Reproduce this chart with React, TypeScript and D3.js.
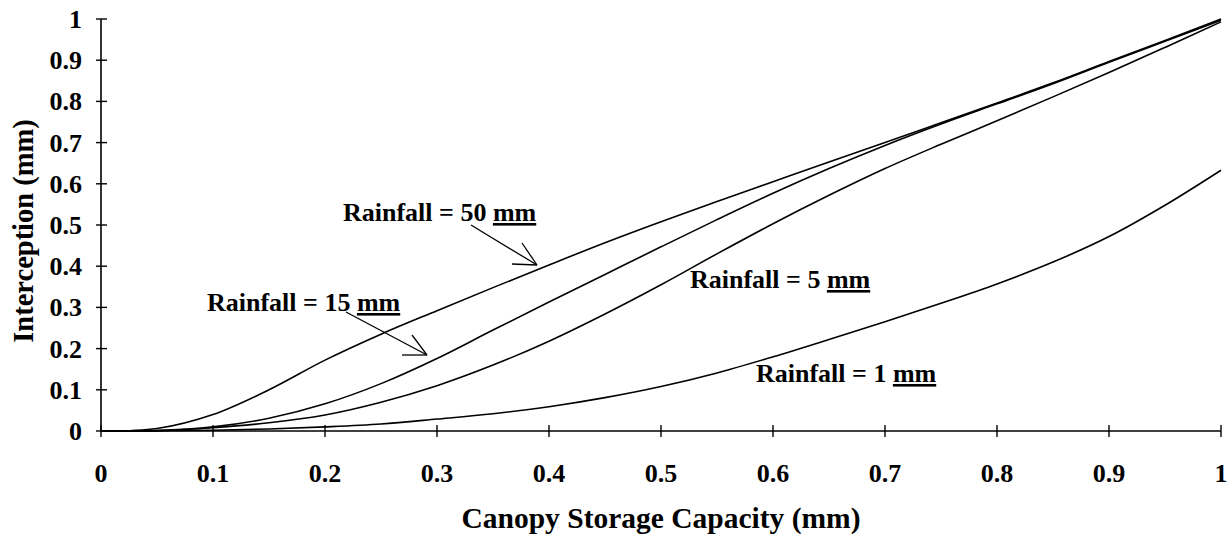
import React from "react";
import * as d3 from "d3";

const capacity = [0, 0.05, 0.1, 0.15, 0.2, 0.25, 0.3, 0.35, 0.4, 0.45, 0.5, 0.55, 0.6, 0.65, 0.7, 0.75, 0.8, 0.85, 0.9, 0.95, 1.0];
const rain50 = [0, 0.006, 0.04, 0.1, 0.172, 0.235, 0.292, 0.348, 0.403, 0.457, 0.508, 0.557, 0.605, 0.653, 0.7, 0.748, 0.796, 0.845, 0.897, 0.948, 1.0];
const rain15 = [0, 0.001, 0.01, 0.031, 0.066, 0.115, 0.176, 0.245, 0.313, 0.38, 0.447, 0.513, 0.577, 0.637, 0.693, 0.745, 0.794, 0.843, 0.895, 0.946, 0.997];
const rain5 = [0, 0.001, 0.008, 0.02, 0.039, 0.07, 0.11, 0.16, 0.218, 0.284, 0.355, 0.43, 0.503, 0.572, 0.637, 0.696, 0.753, 0.811, 0.87, 0.931, 0.993];
const rain1 = [0, 0.0005, 0.002, 0.005, 0.01, 0.017, 0.029, 0.042, 0.059, 0.081, 0.108, 0.141, 0.18, 0.222, 0.265, 0.31, 0.357, 0.41, 0.472, 0.548, 0.633];

const xTicks = [0, 0.1, 0.2, 0.3, 0.4, 0.5, 0.6, 0.7, 0.8, 0.9, 1];
const yTicks = [0, 0.1, 0.2, 0.3, 0.4, 0.5, 0.6, 0.7, 0.8, 0.9, 1];
const seriesNames = ["Rainfall = 50 mm", "Rainfall = 15 mm", "Rainfall = 5 mm", "Rainfall = 1 mm"];

const W = 1231;
const H = 535;
const FONT = "'Liberation Serif', 'Times New Roman', serif";

export default function App() {
  const x = d3.scaleLinear().domain([0, 1]).range([101, 1221]);
  const y = d3.scaleLinear().domain([0, 1]).range([431, 19]);
  const line = d3
    .line<[number, number]>()
    .x((d) => x(d[0]))
    .y((d) => y(d[1]))
    .curve(d3.curveCatmullRom.alpha(0.5));
  const series = [rain50, rain15, rain5, rain1];

  const label = (name: string, lx: number, ly: number) => {
    const parts = name.split(" ");
    const unit = parts[parts.length - 1];
    const head = parts.slice(0, -1).join(" ") + " ";
    return (
      <text x={lx} y={ly} fontFamily={FONT} fontWeight="bold" fontSize={26} fill="#000">
        {head}
        <tspan textDecoration="underline">{unit}</tspan>
      </text>
    );
  };

  const arrow = (x1: number, y1: number, x2: number, y2: number, b1: [number, number], b2: [number, number]) => (
    <g stroke="#000" strokeWidth={1.3} fill="none">
      <line x1={x1} y1={y1} x2={x2} y2={y2} />
      <line x1={b1[0]} y1={b1[1]} x2={x2} y2={y2} />
      <line x1={b2[0]} y1={b2[1]} x2={x2} y2={y2} />
    </g>
  );

  return (
    <svg width={W} height={H} style={{ display: "block", position: "absolute", left: 0, top: 0 }}>
      <rect width={W} height={H} fill="#fff" />
      {series.map((s, i) => (
        <path
          key={i}
          d={line(capacity.map((c, j) => [c, s[j]] as [number, number])) || ""}
          fill="none"
          stroke="#000"
          strokeWidth={1.6}
        />
      ))}
      <line x1={x(0)} x2={x(1)} y1={y(0)} y2={y(0)} stroke="#000" strokeWidth={1.6} />
      <line x1={x(0)} x2={x(0)} y1={y(0)} y2={y(1)} stroke="#000" strokeWidth={1.6} />
      {xTicks.map((t) => (
        <g key={"x" + t}>
          <line x1={x(t)} x2={x(t)} y1={y(0) - 6} y2={y(0) + 6} stroke="#000" strokeWidth={1.4} />
          <text x={x(t)} y={482} textAnchor="middle" fontFamily={FONT} fontWeight="bold" fontSize={26}>
            {String(t)}
          </text>
        </g>
      ))}
      {yTicks.map((t) => (
        <g key={"y" + t}>
          <line x1={x(0) - 5} x2={x(0) + 6} y1={y(t)} y2={y(t)} stroke="#000" strokeWidth={1.4} />
          <text x={82} y={y(t) + 9} textAnchor="end" fontFamily={FONT} fontWeight="bold" fontSize={26}>
            {String(t)}
          </text>
        </g>
      ))}
      <text x={661} y={528} textAnchor="middle" fontFamily={FONT} fontWeight="bold" fontSize={29.5}>
        Canopy Storage Capacity (mm)
      </text>
      <text
        transform={`translate(33, 231) rotate(-90)`}
        textAnchor="middle"
        fontFamily={FONT}
        fontWeight="bold"
        fontSize={28.5}
      >
        Interception (mm)
      </text>
      {label(seriesNames[0], 343, 221)}
      {label(seriesNames[1], 207, 311)}
      {label(seriesNames[2], 690, 288)}
      {label(seriesNames[3], 756, 382)}
      {arrow(471, 225, 537, 265, [522, 243], [512, 264])}
      {arrow(346, 312, 427, 355, [412, 335], [402, 355])}
    </svg>
  );
}
